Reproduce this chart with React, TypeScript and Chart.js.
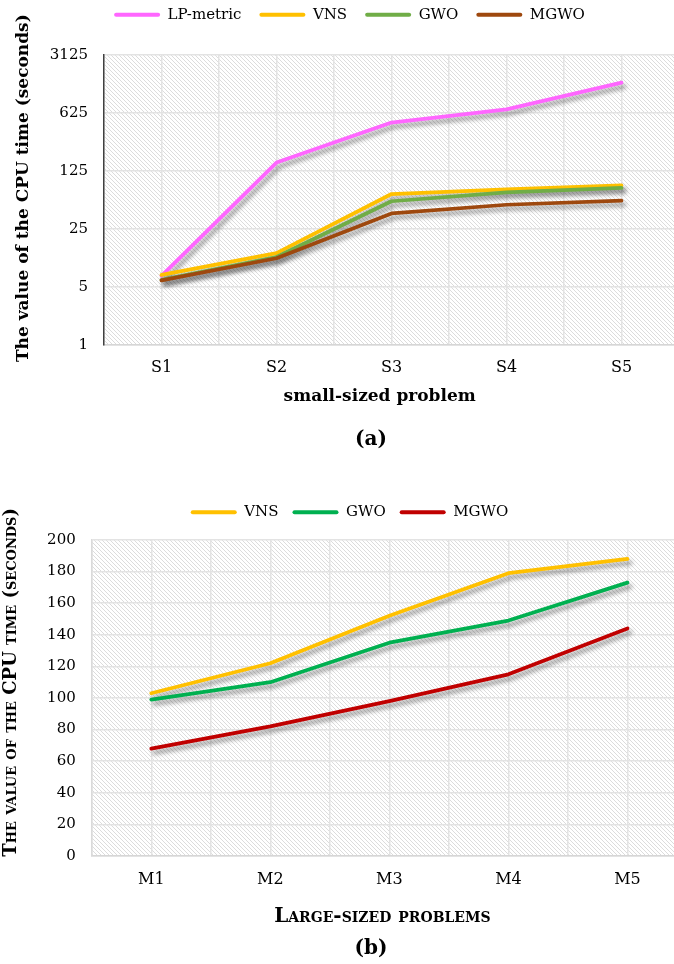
import React, { useEffect, useRef } from 'react';
import { Chart, registerables } from 'chart.js';

Chart.register(...registerables);

// ---------- data: chart (a) ----------
const smallCategories = ['S1', 'S2', 'S3', 'S4', 'S5'];
const lpMetricSmall = [6.8, 158, 480, 690, 1450];
const vnsSmall = [7, 12.8, 66, 75, 84];
const gwoSmall = [6.1, 11.5, 54, 69, 78];
const mgwoSmall = [6, 11.1, 38.5, 49, 55];
const smallYTicks = [1, 5, 25, 125, 625, 3125];

// ---------- data: chart (b) ----------
const largeCategories = ['M1', 'M2', 'M3', 'M4', 'M5'];
const vnsLarge = [103, 122, 152, 179, 188];
const gwoLarge = [99, 110, 135, 149, 173];
const mgwoLarge = [68, 82, 98, 115, 144];

const FONT = "'DejaVu Serif', serif";

let tileCanvas: HTMLCanvasElement | null = null;
function getTile(): HTMLCanvasElement {
  if (tileCanvas) return tileCanvas;
  const c = document.createElement('canvas');
  c.width = 8;
  c.height = 8;
  const g = c.getContext('2d')!;
  g.fillStyle = '#ffffff';
  g.fillRect(0, 0, 8, 8);
  g.strokeStyle = '#d8d8d8';
  g.lineWidth = 0.9;
  for (let k = -8; k <= 8; k += 4) {
    g.beginPath();
    g.moveTo(k, 0);
    g.lineTo(k + 8, 8);
    g.stroke();
  }
  tileCanvas = c;
  return c;
}

const hatchPlugin = {
  id: 'hatchBg',
  beforeDraw(chart: any) {
    const { ctx, chartArea } = chart;
    if (!chartArea) return;
    const pattern = ctx.createPattern(getTile(), 'repeat');
    ctx.save();
    ctx.fillStyle = pattern;
    ctx.fillRect(chartArea.left, chartArea.top, chartArea.right - chartArea.left, chartArea.bottom - chartArea.top);
    ctx.restore();
  },
};

const shadowPlugin = {
  id: 'lineShadow',
  beforeDatasetDraw(chart: any) {
    const ctx = chart.ctx;
    ctx.save();
    ctx.shadowColor = 'rgba(0,0,0,0.38)';
    ctx.shadowBlur = 4;
    ctx.shadowOffsetX = 3;
    ctx.shadowOffsetY = 4;
  },
  afterDatasetDraw(chart: any) {
    chart.ctx.restore();
  },
};

function toPoints(values: number[]) {
  return values.map((v, i) => ({ x: i + 1, y: v }));
}

function makeDataset(label: string, values: number[], color: string, order: number) {
  return {
    label,
    data: toPoints(values),
    borderColor: color,
    backgroundColor: color,
    borderWidth: 3.75,
    pointRadius: 0,
    pointHoverRadius: 0,
    tension: 0,
    order,
    borderCapStyle: 'round' as const,
    borderJoinStyle: 'round' as const,
  };
}

function legendOptions(padding: number) {
  return {
    display: true,
    position: 'top' as const,
    labels: {
      boxWidth: 46,
      boxHeight: 4,
      padding,
      color: '#000',
      font: { family: FONT, size: 15 },
      useBorderRadius: true,
      borderRadius: 2,
      sort: (a: any, b: any) => a.datasetIndex - b.datasetIndex,
      generateLabels: (chart: any) =>
        (Chart.defaults.plugins.legend.labels as any)
          .generateLabels(chart)
          .map((l: any) => ({ ...l, lineWidth: 0, fillStyle: l.strokeStyle })),
    },
  };
}

// empty title used only as a gap between the legend and the plot
function spacer(height: number) {
  return {
    display: true,
    text: '',
    position: 'top' as const,
    weight: 500,
    font: { size: 2, lineHeight: 1 },
    padding: { top: 0, bottom: height - 2 },
  };
}

function xScale(categories: string[], title: string, titleFont: any, tickPad: number, height: number, titleBottom: number) {
  return {
    type: 'linear' as const,
    min: 0.5,
    max: 5.5,
    ticks: {
      stepSize: 0.5,
      autoSkip: false,
      maxRotation: 0,
      padding: tickPad,
      color: '#000',
      font: { family: FONT, size: 16 },
      callback: (value: any) => (Number.isInteger(value) ? categories[value - 1] : ''),
    },
    grid: { color: '#e3e3e3', lineWidth: 1.5, drawTicks: false },
    border: { display: true, color: '#d6d6d6', width: 1.5 },
    title: { display: true, text: title, color: '#000', font: titleFont, padding: { top: 0, bottom: titleBottom } },
    afterFit: (s: any) => {
      s.height = height;
    },
  };
}

function configA(): any {
  return {
    type: 'line',
    data: {
      datasets: [
        makeDataset('LP-metric', lpMetricSmall, '#FF66FF', 3),
        makeDataset('VNS', vnsSmall, '#FFC000', 2),
        makeDataset('GWO', gwoSmall, '#70AD47', 1),
        makeDataset('MGWO', mgwoSmall, '#9E480E', 0),
      ],
    },
    plugins: [hatchPlugin, shadowPlugin],
    options: {
      animation: false,
      responsive: false,
      devicePixelRatio: 1,
      events: [],
      layout: { padding: { left: 20, right: 21, top: 0, bottom: 55 } },
      plugins: { legend: legendOptions(18), title: spacer(22.7), tooltip: { enabled: false } },
      scales: {
        x: xScale(smallCategories, 'small-sized problem    ', { family: FONT, size: 17, weight: 'bold' }, 13.4, 70, 8),
        y: {
          type: 'logarithmic',
          min: 1,
          max: 3125,
          afterBuildTicks: (s: any) => {
            s.ticks = smallYTicks.map((v) => ({ value: v }));
          },
          ticks: {
            autoSkip: false,
            padding: 16,
            color: '#000',
            font: { family: FONT, size: 15, lineHeight: '118px' },
            callback: (v: any) => String(v),
          },
          grid: { color: '#e3e3e3', lineWidth: 1.5, drawTicks: false },
          border: { display: true, color: '#404040', width: 1.5 },
          title: {
            display: true,
            text: '    The value of the CPU time (seconds)',
            color: '#000',
            font: { family: FONT, size: 17, weight: 'bold' },
            padding: { top: -6.2, bottom: 0 },
          },
          afterFit: (s: any) => {
            s.width = 84;
          },
        },
      },
    },
  };
}

function configB(): any {
  return {
    type: 'line',
    data: {
      datasets: [
        makeDataset('VNS', vnsLarge, '#FFC000', 2),
        makeDataset('GWO', gwoLarge, '#00B050', 1),
        makeDataset('MGWO', mgwoLarge, '#C00000', 0),
      ],
    },
    plugins: [hatchPlugin, shadowPlugin],
    options: {
      animation: false,
      responsive: false,
      devicePixelRatio: 1,
      events: [],
      layout: { padding: { left: 12, right: 24, top: 0, bottom: 28 } },
      plugins: { legend: legendOptions(14), title: spacer(10.3), tooltip: { enabled: false } },
      scales: {
        x: xScale(largeCategories, 'Large-sized problems  ', { family: FONT, size: 20, weight: 'small-caps bold' }, 14.4, 80, 7),
        y: {
          type: 'linear',
          min: 0,
          max: 200,
          ticks: {
            stepSize: 20,
            autoSkip: false,
            padding: 16,
            color: '#000',
            font: { family: FONT, size: 15, lineHeight: '108px' },
          },
          grid: { color: '#e3e3e3', lineWidth: 1.5, drawTicks: false },
          border: { display: true, color: '#dadada', width: 1.5 },
          title: {
            display: true,
            text: '     The value of the CPU time (seconds)',
            color: '#000',
            font: { family: FONT, size: 18, weight: 'small-caps bold' },
            padding: { top: -11, bottom: 0 },
          },
          afterFit: (s: any) => {
            s.width = 79.75;
          },
        },
      },
    },
  };
}

const captionStyle: React.CSSProperties = {
  position: 'absolute',
  width: 100,
  textAlign: 'center',
  fontFamily: FONT,
  fontWeight: 'bold',
  fontSize: 20,
  lineHeight: '24px',
  color: '#000',
};

export default function App() {
  const refA = useRef<HTMLCanvasElement>(null);
  const refB = useRef<HTMLCanvasElement>(null);

  useEffect(() => {
    const a = new Chart(refA.current!, configA());
    const b = new Chart(refB.current!, configB());
    return () => {
      a.destroy();
      b.destroy();
    };
  }, []);

  return (
    <div style={{ position: 'fixed', left: 0, top: 0, width: 674, height: 964, overflow: 'hidden', background: '#fff' }}>
      <div style={{ position: 'absolute', left: 0, top: -20, width: 700, height: 490 }}>
        <canvas ref={refA} width={700} height={490} style={{ display: 'block', width: 700, height: 490 }} />
      </div>
      <div style={{ ...captionStyle, left: 321, top: 426 }}>(a)</div>
      <div style={{ position: 'absolute', left: 0, top: 470, width: 711, height: 494 }}>
        <canvas ref={refB} width={711} height={494} style={{ display: 'block', width: 711, height: 494 }} />
      </div>
      <div style={{ ...captionStyle, left: 321, top: 935 }}>(b)</div>
    </div>
  );
}
